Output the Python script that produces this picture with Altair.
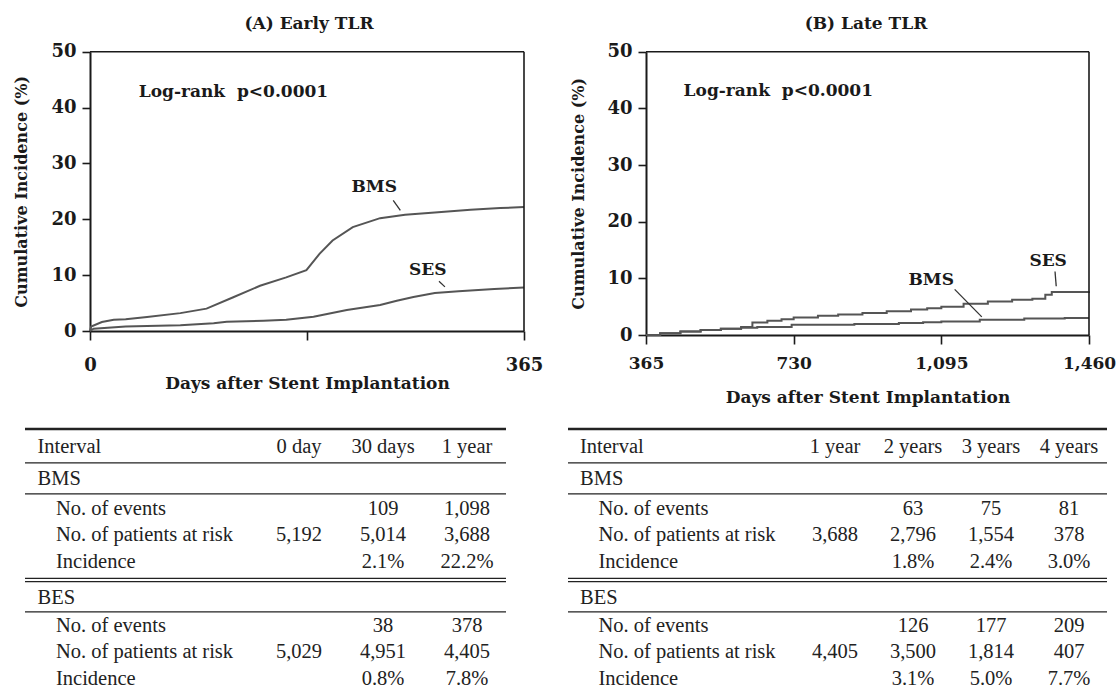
import altair as alt
import pandas as pd

W, H = 1117, 690

# ---- cumulative incidence of TLR (%) ----
# (A) early TLR, 0-365 days
A_BMS_DAYS = [0, 1, 10, 20, 30, 48, 76, 98, 120, 143, 165, 182, 193, 204, 221, 244, 265, 290, 320, 345, 365]
A_BMS_PCT = [0, 0.8, 1.6, 2.0, 2.1, 2.5, 3.2, 4.0, 6.0, 8.1, 9.6, 10.9, 13.8, 16.2, 18.6, 20.2, 20.8, 21.2, 21.7, 22.0, 22.2]
A_SES_DAYS = [0, 3, 30, 48, 76, 104, 115, 146, 165, 188, 216, 244, 258, 272, 290, 310, 340, 365]
A_SES_PCT = [0, 0.4, 0.8, 0.9, 1.05, 1.4, 1.65, 1.85, 2.0, 2.55, 3.75, 4.65, 5.4, 6.1, 6.8, 7.1, 7.5, 7.8]

# (B) late TLR, 365-1460 days (Kaplan-Meier steps)
B_SES_DAYS = [365, 400, 450, 500, 550, 600, 628, 665, 700, 730, 790, 840, 900, 960, 1020, 1060, 1095, 1150, 1210, 1270, 1320, 1352, 1368, 1460]
B_SES_PCT = [0, 0.3, 0.6, 0.9, 1.1, 1.4, 2.2, 2.5, 2.8, 3.1, 3.4, 3.6, 3.9, 4.2, 4.5, 4.7, 5.0, 5.5, 5.9, 6.2, 6.4, 7.1, 7.6, 7.7]
B_BMS_DAYS = [365, 400, 450, 500, 550, 600, 640, 725, 880, 990, 1050, 1095, 1190, 1300, 1400, 1460]
B_BMS_PCT = [0, 0.3, 0.6, 0.9, 1.1, 1.3, 1.4, 1.8, 1.95, 2.1, 2.25, 2.4, 2.7, 2.9, 3.0, 3.0]

# ---- tables under each panel ----
A_COLS = ["0 day", "30 days", "1 year"]
A_BMS_EVENTS = [None, 109, 1098]
A_BMS_RISK = [5192, 5014, 3688]
A_BMS_INC = [None, 2.1, 22.2]
A_BES_EVENTS = [None, 38, 378]
A_BES_RISK = [5029, 4951, 4405]
A_BES_INC = [None, 0.8, 7.8]

B_COLS = ["1 year", "2 years", "3 years", "4 years"]
B_BMS_EVENTS = [None, 63, 75, 81]
B_BMS_RISK = [3688, 2796, 1554, 378]
B_BMS_INC = [None, 1.8, 2.4, 3.0]
B_BES_EVENTS = [None, 126, 177, 209]
B_BES_RISK = [4405, 3500, 1814, 407]
B_BES_INC = [None, 3.1, 5.0, 7.7]

PCT_DOMAIN = [0, 50]
PCT_TICKS = [0, 10, 20, 30, 40, 50]

FONT_BOLD = "DejaVu Serif"
FONT_TABLE = "Liberation Serif"
INK = "#1a1a1a"
CURVE = "#555555"


def curves_frame(series):
    parts = [pd.DataFrame({"day": d, "pct": p, "stent": s}) for s, d, p in series]
    return pd.concat(parts, ignore_index=True)


def panel(series, domain, x_range, y_range, ticks, label_expr, interpolate,
          note_at, labels, leaders, label_pad, x_label_size, x_title_y, y_title_x):
    """Returns the list of layers for one Kaplan-Meier panel."""
    xs = alt.Scale(domain=domain, range=x_range, nice=False, zero=False)
    ys = alt.Scale(domain=PCT_DOMAIN, range=y_range, nice=False, zero=False)
    x_axis = alt.Axis(
        orient="bottom", offset=-(H - y_range[0]), values=ticks, labelExpr=label_expr,
        grid=False, tickSize=9, tickWidth=1.6, tickColor=INK, domainColor=INK,
        domainWidth=2, labelFont=FONT_BOLD, labelFontWeight="bold", labelFontSize=x_label_size,
        labelColor=INK, labelPadding=label_pad, labelFlush=False, labelOverlap=False,
        title="Days after Stent Implantation", titleFont=FONT_BOLD, titleFontWeight="bold",
        titleFontSize=17, titleColor=INK, titleBaseline="top",
        titleX=(x_range[0] + x_range[1]) / 2, titleY=x_title_y,
    )
    y_axis = alt.Axis(
        orient="left", offset=-x_range[0], values=PCT_TICKS, grid=False,
        tickSize=8, tickWidth=1.6, tickColor=INK, domainColor=INK, domainWidth=2,
        labelFont=FONT_BOLD, labelFontWeight="bold", labelFontSize=18, labelColor=INK,
        labelPadding=6, labelFlush=False, labelOverlap=False,
        title="Cumulative Incidence (%)", titleFont=FONT_BOLD, titleFontWeight="bold",
        titleFontSize=16, titleColor=INK, titleAngle=-90, titleBaseline="bottom",
        titleX=y_title_x, titleY=(y_range[0] + y_range[1]) / 2,
    )

    lines = alt.Chart(curves_frame(series)).mark_line(
        color=CURVE, strokeWidth=2, interpolate=interpolate
    ).encode(
        x=alt.X("day:Q", scale=xs, axis=x_axis),
        y=alt.Y("pct:Q", scale=ys, axis=y_axis),
        detail="stent:N",
    )

    # top and right edges of the plotting frame
    frame = pd.DataFrame({
        "day": [domain[0], domain[1]], "day2": [domain[1], domain[1]],
        "pct": [PCT_DOMAIN[1], PCT_DOMAIN[0]], "pct2": [PCT_DOMAIN[1], PCT_DOMAIN[1]],
    })
    border = alt.Chart(frame).mark_rule(color=INK, strokeWidth=1.6).encode(
        x=alt.X("day:Q", scale=xs, axis=None), x2="day2:Q",
        y=alt.Y("pct:Q", scale=ys, axis=None), y2="pct2:Q",
    )

    note = alt.Chart(pd.DataFrame({"day": [note_at[0]], "pct": [note_at[1]],
                                   "t": ["Log-rank\u00a0\u00a0p<0.0001"]})).mark_text(
        align="left", baseline="middle", font=FONT_BOLD, fontWeight="bold",
        fontSize=17, color=INK,
    ).encode(x=alt.X("day:Q", scale=xs, axis=None), y=alt.Y("pct:Q", scale=ys, axis=None), text="t:N")

    lab_df = pd.DataFrame([{"t": k, "day": v[0], "pct": v[1]} for k, v in labels.items()])
    lab = alt.Chart(lab_df).mark_text(
        align="center", baseline="middle", font=FONT_BOLD, fontWeight="bold",
        fontSize=17, color=INK,
    ).encode(x=alt.X("day:Q", scale=xs, axis=None), y=alt.Y("pct:Q", scale=ys, axis=None), text="t:N")

    lead_df = pd.DataFrame([{"day": a[0], "pct": a[1], "day2": b[0], "pct2": b[1]} for a, b in leaders])
    lead = alt.Chart(lead_df).mark_rule(color="#333333", strokeWidth=1.3).encode(
        x=alt.X("day:Q", scale=xs, axis=None), x2="day2:Q",
        y=alt.Y("pct:Q", scale=ys, axis=None), y2="pct2:Q",
    )
    return [lines, border, note, lab, lead]


panel_a = panel(
    [("BMS", A_BMS_DAYS, A_BMS_PCT), ("SES", A_SES_DAYS, A_SES_PCT)],
    domain=[0, 365], x_range=[90, 524], y_range=[331, 51.7],
    ticks=[0, 182.5, 365], label_expr="datum.value == 182.5 ? '' : format(datum.value, ',d')",
    interpolate="linear", note_at=(41, 42.8),
    labels={"BMS": (239, 25.8), "SES": (284, 10.9)},
    leaders=[((255, 23.4), (261, 21.6)), ((293.5, 8.9), (298.5, 7.9))],
    label_pad=16, x_label_size=18, x_title_y=44, y_title_x=-61,
)

panel_b = panel(
    [("BMS", B_BMS_DAYS, B_BMS_PCT), ("SES", B_SES_DAYS, B_SES_PCT)],
    domain=[365, 1460], x_range=[646, 1089], y_range=[335, 51.7],
    ticks=[365, 730, 1095, 1460], label_expr="format(datum.value, ',d')",
    interpolate="step-after", note_at=(458, 43.0),
    labels={"BMS": (1070, 9.7), "SES": (1359, 13.05)},
    leaders=[((1128, 8.06), (1195, 3.2)), ((1376, 11.2), (1379, 8.6))],
    label_pad=11, x_label_size=17, x_title_y=54, y_title_x=-60,
)

# ---- tables ----
ROW_GAPS = [1.2, 1.13, 1.0, 1.0, 1.35, 1.05, 1.0, 1.0]
ROW_POS = [0.0]
for g in ROW_GAPS:
    ROW_POS.append(round(ROW_POS[-1] + g, 3))
TABLE_Y = alt.Scale(domain=[0, ROW_POS[-1]], range=[447, 679], nice=False, zero=False)


def fmt_count(v):
    return "" if v is None else f"{v:,}"


def fmt_pct(v):
    return "" if v is None else f"{v:.1f}%"


def table(cols, bms, bes, label_x, col_range, rule_x):
    n = len(cols)
    labels = [("Interval", 0, False), ("BMS", 1, False)]
    labels += [(t, i, True) for t, i in zip(
        ["No. of events", "No. of patients at risk", "Incidence"], [2, 3, 4])]
    labels += [("BES", 5, False)]
    labels += [(t, i, True) for t, i in zip(
        ["No. of events", "No. of patients at risk", "Incidence"], [6, 7, 8])]
    lab_df = pd.DataFrame([{"t": t, "pos": ROW_POS[i], "ind": ind} for t, i, ind in labels])

    vals = [{"t": c, "pos": ROW_POS[0], "col": j + 1} for j, c in enumerate(cols)]
    for group, start in ((bms, 2), (bes, 6)):
        events, risk, inc = group
        for j in range(n):
            vals.append({"t": fmt_count(events[j]), "pos": ROW_POS[start], "col": j + 1})
            vals.append({"t": fmt_count(risk[j]), "pos": ROW_POS[start + 1], "col": j + 1})
            vals.append({"t": fmt_pct(inc[j]), "pos": ROW_POS[start + 2], "col": j + 1})
    val_df = pd.DataFrame(vals)

    mid = lambda a, b: (ROW_POS[a] + ROW_POS[b]) / 2
    rules = [
        {"pos": ROW_POS[0] - 0.68, "w": 2.6},
        {"pos": mid(0, 1), "w": 1.2},
        {"pos": mid(1, 2), "w": 1.2},
        {"pos": mid(4, 5) - 0.06, "w": 1.2},
        {"pos": mid(4, 5) + 0.06, "w": 1.2},
        {"pos": mid(5, 6), "w": 1.2},
    ]
    rule_df = pd.DataFrame(rules)

    text_style = dict(baseline="middle", font=FONT_TABLE, fontSize=20.5, color="#222222")
    heads = alt.Chart(lab_df[~lab_df["ind"]]).mark_text(align="left", **text_style).encode(
        x=alt.value(label_x), y=alt.Y("pos:Q", scale=TABLE_Y, axis=None), text="t:N")
    subs = alt.Chart(lab_df[lab_df["ind"]]).mark_text(align="left", dx=18.5, **text_style).encode(
        x=alt.value(label_x), y=alt.Y("pos:Q", scale=TABLE_Y, axis=None), text="t:N")
    cells = alt.Chart(val_df).mark_text(align="center", **text_style).encode(
        x=alt.X("col:Q", scale=alt.Scale(domain=[1, n], range=col_range, nice=False, zero=False), axis=None),
        y=alt.Y("pos:Q", scale=TABLE_Y, axis=None), text="t:N")
    lines = alt.Chart(rule_df).mark_rule(color="#222222").encode(
        x=alt.value(rule_x[0]), x2=alt.value(rule_x[1]),
        y=alt.Y("pos:Q", scale=TABLE_Y, axis=None),
        strokeWidth=alt.StrokeWidth("w:Q", scale=None, legend=None))
    return [lines, heads, subs, cells]


table_a = table(A_COLS, (A_BMS_EVENTS, A_BMS_RISK, A_BMS_INC), (A_BES_EVENTS, A_BES_RISK, A_BES_INC),
                label_x=37.5, col_range=[299, 467], rule_x=(25, 506))
table_b = table(B_COLS, (B_BMS_EVENTS, B_BMS_RISK, B_BMS_INC), (B_BES_EVENTS, B_BES_RISK, B_BES_INC),
                label_x=580, col_range=[835, 1069], rule_x=(568, 1107))

# ---- panel headings ----
heads = alt.Chart(pd.DataFrame({"t": ["(A) Early TLR", "(B) Late TLR"], "k": ["a", "b"]}))
title_a = heads.transform_filter("datum.k == 'a'").mark_text(
    font=FONT_BOLD, fontWeight="bold", fontSize=17, color=INK, baseline="middle"
).encode(x=alt.value(309), y=alt.value(23.5), text="t:N")
title_b = heads.transform_filter("datum.k == 'b'").mark_text(
    font=FONT_BOLD, fontWeight="bold", fontSize=17, color=INK, baseline="middle"
).encode(x=alt.value(866), y=alt.value(23.5), text="t:N")

# every layer keeps its own scales; each carries the same explicit domain and pixel range
chart = alt.layer(*panel_a, *panel_b, *table_a, *table_b, title_a, title_b).resolve_scale(
    x="independent", y="independent"
).properties(
    width=W, height=H, autosize="none", padding=0, background="white"
).configure_view(strokeWidth=0)

chart.save("out.html", embed_options={"renderer": "svg", "actions": False})
